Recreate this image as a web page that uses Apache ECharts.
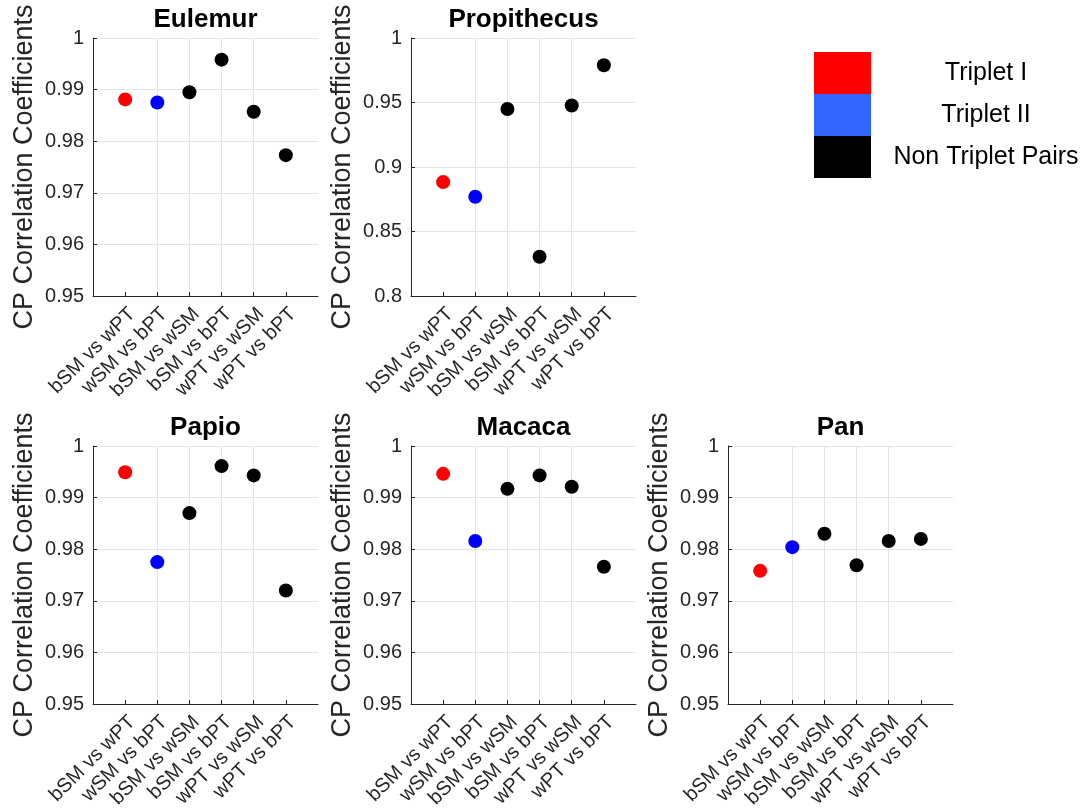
<!DOCTYPE html>
<html>
<head>
<meta charset="utf-8">
<script src="https://cdn.jsdelivr.net/npm/echarts@6/dist/echarts.min.js"></script>
<style>
  html, body { margin: 0; padding: 0; background: #ffffff; }
  #chart { width: 1086px; height: 812px; }
</style>
</head>
<body>
<div id="chart"></div>
<script>
// Pair comparisons along each x axis
const pairLabels = ['bSM vs wPT', 'wSM vs bPT', 'bSM vs wSM', 'bSM vs bPT', 'wPT vs wSM', 'wPT vs bPT'];

// CP correlation coefficients per genus (same order as pairLabels)
const eulemur     = [0.9881, 0.9875, 0.9895, 0.9958, 0.9857, 0.9773];
const propithecus = [0.8883, 0.8769, 0.9450, 0.8304, 0.9477, 0.9789];
const papio       = [0.9949, 0.9775, 0.9870, 0.9961, 0.9943, 0.9720];
const macaca      = [0.9946, 0.9816, 0.9917, 0.9943, 0.9921, 0.9766];
const pan         = [0.9758, 0.9804, 0.9830, 0.9769, 0.9816, 0.9820];

const genusNames  = ['Eulemur', 'Propithecus', 'Papio', 'Macaca', 'Pan'];
const genusValues = [eulemur, propithecus, papio, macaca, pan];

// y-axis ranges: [min, max, step]
const yRanges = [
  [0.95, 1, 0.01],
  [0.80, 1, 0.05],
  [0.95, 1, 0.01],
  [0.95, 1, 0.01],
  [0.95, 1, 0.01]
];

const groupNames = ['Triplet I', 'Triplet II', 'Non Triplet Pairs'];

// ---- layout & styling ----
const panelPos = [[93, 38], [411, 38], [93, 446], [411, 446], [728, 446]];
const panelW = 225, panelH = 258;
const axisColor = '#262626';
const gridColor = '#e4e4e4';
const font = 'Liberation Sans, Helvetica, Arial, sans-serif';
const pointColors = ['#ff0000', '#0000ff', '#000000'];
const legendColors = ['#ff0000', '#3366ff', '#000000'];
const xTickValues = pairLabels.map((_, i) => i + 1);

const grids = [], xAxes = [], yAxes = [], titles = [], series = [];

genusNames.forEach((name, i) => {
  const [left, top] = panelPos[i];
  grids.push({ left: left, top: top, width: panelW, height: panelH, containLabel: false });

  titles.push({
    text: name,
    left: left + panelW / 2,
    top: top - 31,
    padding: 0,
    textAlign: 'center',
    textStyle: { fontFamily: font, fontWeight: 'bold', fontSize: 26, color: '#000000' }
  });

  xAxes.push({
    type: 'value',
    gridIndex: i,
    min: 0,
    max: pairLabels.length + 1,
    interval: 1,
    axisLine: { show: true, onZero: false, lineStyle: { color: axisColor, width: 1 } },
    axisTick: { show: true, inside: true, length: 4, customValues: xTickValues, lineStyle: { color: axisColor } },
    axisLabel: {
      show: true,
      customValues: xTickValues,
      rotate: 45,
      margin: 8,
      verticalAlign: 'top',
      fontFamily: font,
      fontSize: 20,
      color: axisColor,
      formatter: v => pairLabels[v - 1] || ''
    },
    splitLine: { show: true, showMinLine: false, showMaxLine: false, lineStyle: { color: gridColor, width: 1 } }
  });

  const [ymin, ymax, ystep] = yRanges[i];
  yAxes.push({
    type: 'value',
    gridIndex: i,
    min: ymin,
    max: ymax,
    interval: ystep,
    name: 'CP Correlation Coefficients',
    nameLocation: 'middle',
    nameGap: 55,
    nameTextStyle: { fontFamily: font, fontSize: 27, color: axisColor },
    axisLine: { show: true, lineStyle: { color: axisColor, width: 1 } },
    axisTick: { show: true, inside: true, length: 4, lineStyle: { color: axisColor } },
    axisLabel: { margin: 9, fontFamily: font, fontSize: 20, color: axisColor },
    splitLine: { show: true, lineStyle: { color: gridColor, width: 1 } }
  });

  const vals = genusValues[i];
  const groupsData = [
    [[1, vals[0]]],
    [[2, vals[1]]],
    vals.slice(2).map((v, k) => [k + 3, v])
  ];
  groupsData.forEach((d, g) => {
    series.push({
      type: 'scatter',
      name: groupNames[g],
      xAxisIndex: i,
      yAxisIndex: i,
      data: d,
      symbol: 'circle',
      symbolSize: 14,
      itemStyle: { color: pointColors[g], opacity: 1 },
      emphasis: { disabled: true }
    });
  });
});

const chart = echarts.init(document.getElementById('chart'), null, { renderer: 'canvas' });
chart.setOption({
  backgroundColor: '#ffffff',
  animation: false,
  title: titles,
  grid: grids,
  xAxis: xAxes,
  yAxis: yAxes,
  legend: {
    orient: 'vertical',
    left: 814,
    top: 52,
    padding: 0,
    itemWidth: 57,
    itemHeight: 42,
    itemGap: 0,
    icon: 'rect',
    selectedMode: false,
    data: groupNames.map((n, g) => ({ name: n, itemStyle: { color: legendColors[g], opacity: 1 } })),
    formatter: n => '{t|' + n + '}',
    textStyle: {
      fontFamily: font,
      fontSize: 25,
      color: '#000000',
      rich: { t: { width: 220, align: 'center', fontFamily: font, fontSize: 25, color: '#000000' } }
    }
  },
  series: series
});
</script>
</body>
</html>
